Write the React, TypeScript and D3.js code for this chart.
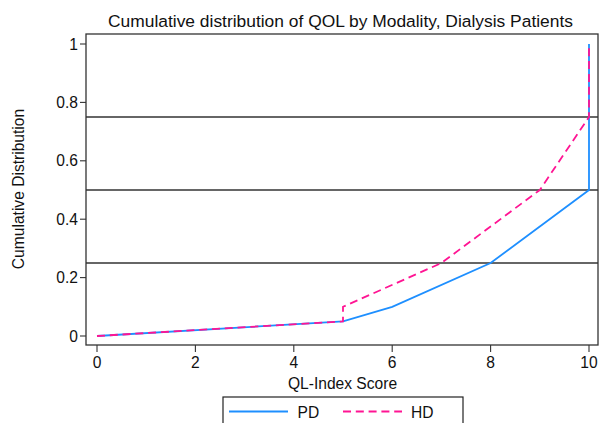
import React from "react";
import * as d3 from "d3";

const pdX = [0, 5, 6, 8, 10, 10];
const pdY = [0, 0.05, 0.1, 0.25, 0.5, 1];
const hdX = [0, 5, 5, 7, 9, 10, 10];
const hdY = [0, 0.05, 0.1, 0.25, 0.5, 0.75, 1];
const xTicks = [0, 2, 4, 6, 8, 10];
const yTicks = [0, 0.2, 0.4, 0.6, 0.8, 1];
const refLines = [0.25, 0.5, 0.75];
const seriesNames = ["PD", "HD"];

const W = 600, H = 423;
const left = 86, right = 598, top = 34, bottom = 345;
const font = "Arial, 'Liberation Sans', Helvetica, sans-serif";
const fs = 15.6;

export default function App() {
  const x = d3.scaleLinear().domain([0, 10]).range([97, 589]);
  const y = d3.scaleLinear().domain([0, 1]).range([336, 44]);
  const line = d3.line<[number, number]>().x(d => x(d[0])).y(d => y(d[1]));
  const pd = pdX.map((v, i) => [v, pdY[i]] as [number, number]);
  const hd = hdX.map((v, i) => [v, hdY[i]] as [number, number]);
  return (
    <svg width={W} height={H} style={{ position: "absolute", left: 0, top: 0 }} fontFamily={font}>
      <rect x={0} y={0} width={W} height={H} fill="#fff" />
      <text x={340.5} y={27} textAnchor="middle" fontSize={17.4} fill="#111">
        Cumulative distribution of QOL by Modality, Dialysis Patients
      </text>
      {refLines.map(r => (
        <line key={r} x1={left} x2={right} y1={y(r)} y2={y(r)} stroke="#333" strokeWidth={1.3} />
      ))}
      <path d={line(pd) || ""} fill="none" stroke="#1E8FFF" strokeWidth={1.8} />
      <path d={line(hd) || ""} fill="none" stroke="#FF1493" strokeWidth={1.8} strokeDasharray="8,4.8" />
      <rect x={left} y={top} width={right - left} height={bottom - top} fill="none" stroke="#333" strokeWidth={1.3} />
      {yTicks.map(t => (
        <g key={t}>
          <line x1={left - 6} x2={left} y1={y(t)} y2={y(t)} stroke="#333" strokeWidth={1.1} />
          <text x={78} y={y(t) + 5.5} textAnchor="end" fontSize={fs} fill="#111">{t}</text>
        </g>
      ))}
      {xTicks.map(t => (
        <g key={t}>
          <line x1={x(t)} x2={x(t)} y1={bottom} y2={bottom + 7} stroke="#333" strokeWidth={1.1} />
          <text x={x(t)} y={368} textAnchor="middle" fontSize={fs} fill="#111">{t}</text>
        </g>
      ))}
      <text x={342.5} y={389} textAnchor="middle" fontSize={fs} fill="#111">QL-Index Score</text>
      <text transform={`translate(24,189) rotate(-90)`} textAnchor="middle" fontSize={fs} fill="#111">
        Cumulative Distribution
      </text>
      <rect x={223} y={397} width={240} height={40} fill="none" stroke="#222" strokeWidth={1.2} />
      <line x1={229} x2={288} y1={411.5} y2={411.5} stroke="#1E8FFF" strokeWidth={1.8} />
      <text x={297.5} y={418} fontSize={fs} fill="#111">{seriesNames[0]}</text>
      <line x1={343} x2={402} y1={411.5} y2={411.5} stroke="#FF1493" strokeWidth={1.8} strokeDasharray="8,4.8" />
      <text x={411} y={418} fontSize={fs} fill="#111">{seriesNames[1]}</text>
    </svg>
  );
}
